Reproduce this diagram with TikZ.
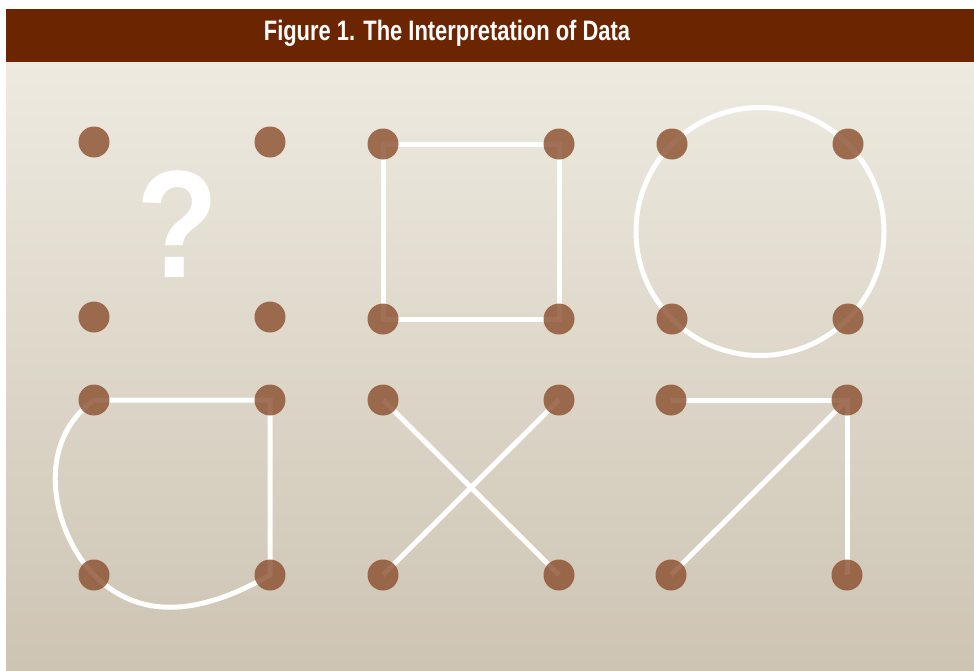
\documentclass[tikz,border=0pt]{standalone}
\usepackage{fontspec}
\usetikzlibrary{calc}
\setmainfont{Liberation Sans}
\newfontfamily\titlefont[FakeStretch=0.78]{Liberation Sans Bold}
\newfontfamily\markfont[FakeStretch=0.88]{Liberation Sans Bold}
\definecolor{barbrown}{RGB}{107,37,0}
\definecolor{dotbrown}{RGB}{138,78,45}
\definecolor{paper top}{RGB}{238,234,224}
\definecolor{paper bottom}{RGB}{205,196,179}
\pgfdeclarelayer{back}
\pgfdeclarelayer{lines}
\pgfsetlayers{back,lines,main}

\begin{document}
\begin{tikzpicture}[x=0.02cm,y=-0.02cm,
  dot/.style={circle,fill=dotbrown,fill opacity=0.8,inner sep=0pt,minimum size=0.62cm},
  wire/.style={draw=white,line width=5*0.02cm,line join=miter}]
\useasboundingbox (0,0) rectangle (974,670);
\begin{pgfonlayer}{back}
\fill[white] (0,0) rectangle (974,670);
\shade[top color=paper top,bottom color=paper bottom] (6,62) rectangle (974,670);
\fill[barbrown] (6,9) rectangle (974,62);
\end{pgfonlayer}
\node[text=white,font=\titlefont\fontsize{16}{16}\selectfont] (title) at (447,33) {Figure 1. The Interpretation of Data};
\node[text=white,font=\markfont\fontsize{87}{87}\selectfont] (qm) at (178,224) {?};
% four dots per panel
\foreach \p/\x/\y/\d in {a/94/142/176, b/383/144/176, c/672/144/176, d/94/400/176, e/383/400/176, f/671/400/176} {
  \node[dot] (\p1) at (\x,\y) {};
  \node[dot] (\p2) at (\x+\d,\y) {};
  \node[dot] (\p3) at (\x,\y+175) {};
  \node[dot] (\p4) at (\x+\d,\y+175) {};
}
\coordinate (mid) at ($(c1)!0.5!(c4)$);
\begin{pgfonlayer}{lines}
\draw[wire] (b1.center) -- (b2.center) -- (b4.center) -- (b3.center) -- cycle;
\draw[wire] (mid) circle (124);
\draw[wire] (d1.center) -- (d2.center) -- (d4.center)
  .. controls (195,618) and (137,618) .. (d3.center)
  .. controls (55,535) and (31,446) .. (d1.center);
\draw[wire] (e1.center) -- (e4.center);
\draw[wire] (e2.center) -- (e3.center);
\draw[wire] (f1.center) -- (f2.center) -- (f4.center);
\draw[wire] (f3.center) -- (f2.center);
\end{pgfonlayer}
\end{tikzpicture}
\end{document}
